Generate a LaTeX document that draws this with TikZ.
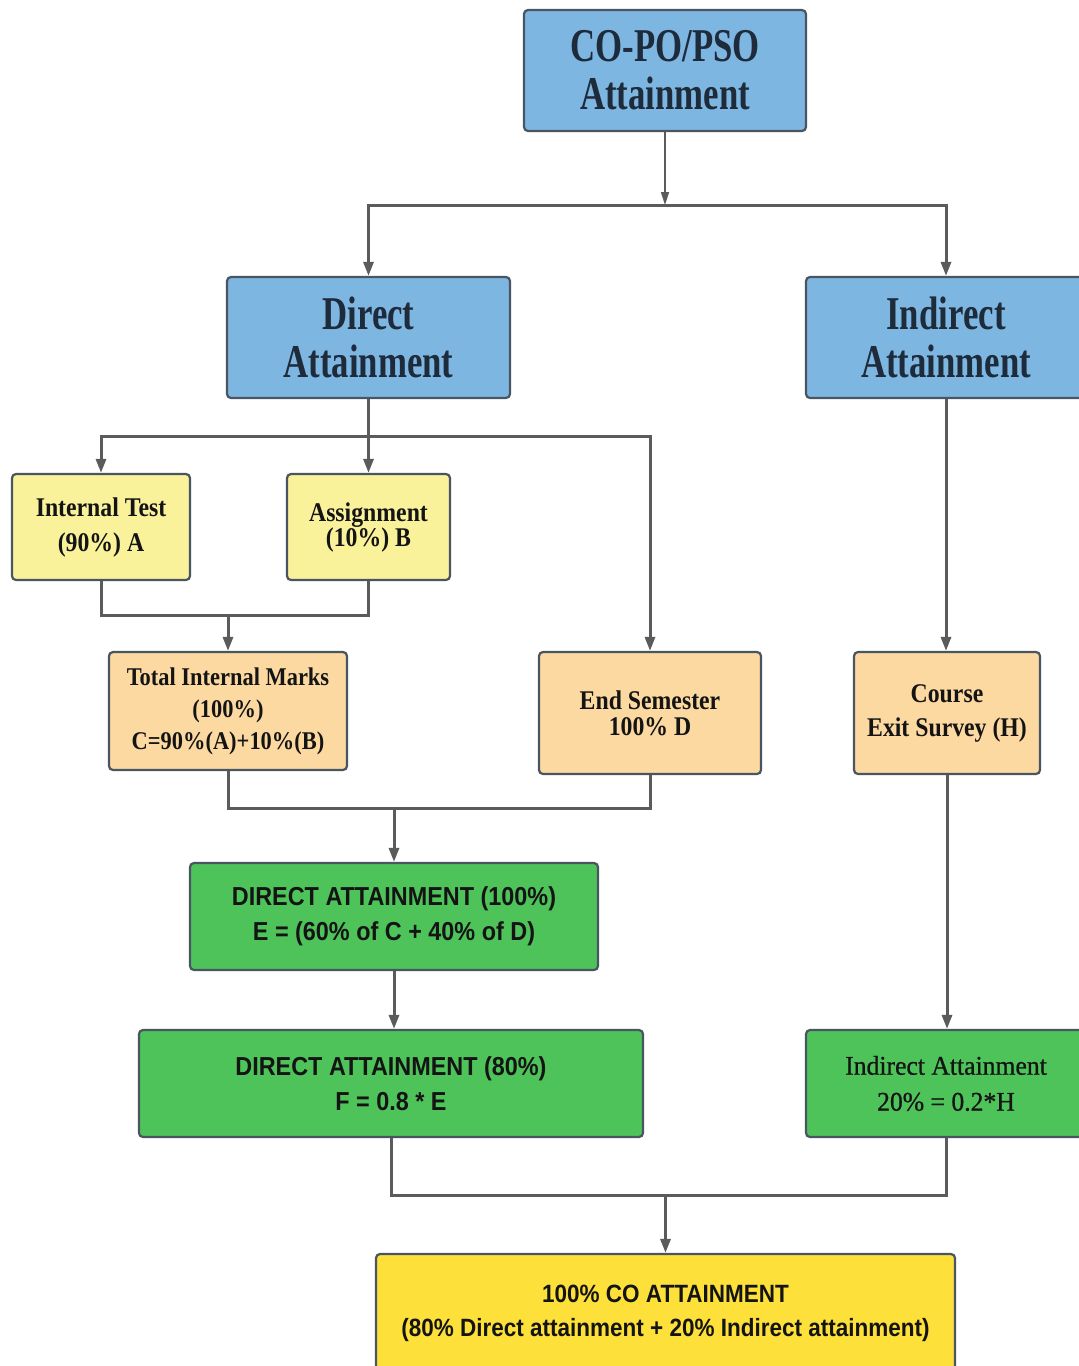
\documentclass[tikz,border=0pt]{standalone}
\usepackage{fontspec}
\usetikzlibrary{arrows.meta}
\newfontfamily\titleserif[FakeStretch=0.74]{Liberation Serif}
\newfontfamily\boxserif[FakeStretch=0.88]{Liberation Serif}
\newfontfamily\plainserif[FakeStretch=0.95,FakeBold=0.8]{Liberation Serif}
\newfontfamily\boxsans[FakeStretch=0.9]{Liberation Sans}
\definecolor{blueface}{HTML}{7EB6E2}
\definecolor{edgecol}{HTML}{4A5562}
\definecolor{paleyellow}{HTML}{FAF29B}
\definecolor{peach}{HTML}{FCD9A0}
\definecolor{leaf}{HTML}{4EC35A}
\definecolor{gold}{HTML}{FDE03A}
\definecolor{wire}{HTML}{5B5B5B}
\definecolor{navytext}{HTML}{1E2B3A}
\definecolor{inktext}{HTML}{141414}
\tikzset{
  box/.style={draw=edgecol, line width=2.2pt, rounded corners=4pt, inner sep=0pt, align=center, text=inktext},
  bluebox/.style={box, fill=blueface, text=navytext, font={\titleserif\bfseries\fontsize{47}{48}\selectfont}},
  inputbox/.style={box, fill=paleyellow, font={\boxserif\bfseries\fontsize{27}{35}\selectfont}},
  sumbox/.style={box, fill=peach, font={\boxserif\bfseries\fontsize{27}{34}\selectfont}},
  greenbox/.style={box, fill=leaf, font={\boxsans\bfseries\fontsize{26}{35}\selectfont}},
  goldbox/.style={box, fill=gold, font={\boxsans\bfseries\fontsize{25}{34}\selectfont}},
  wireline/.style={draw=wire, line width=3pt},
  flow/.style={wireline, -{Triangle[width=10pt,length=14pt]}},
  thinflow/.style={draw=wire, line width=1.4pt, -{Triangle[width=8pt,length=13pt]}}
}
\begin{document}
\begin{tikzpicture}[x=1pt,y=-1pt]
\useasboundingbox (0,0) rectangle (1079,1366);
\fill[white] (0,0) rectangle (1079,1366);

% level 1
\node[bluebox, minimum width=282pt, minimum height=121pt] (top) at (665,70.5) {CO-PO/PSO\\Attainment};

% level 2
\node[bluebox, minimum width=283pt, minimum height=121pt] (dir) at (368.5,337.5) {Direct\\Attainment};
\node[bluebox, minimum width=280pt, minimum height=121pt] (ind) at (946,337.5) {Indirect\\Attainment};

% direct components
\node[inputbox, minimum width=178pt, minimum height=106pt] (itest) at (101,527) {Internal Test\\(90\%) A};
\node[inputbox, minimum width=163pt, minimum height=106pt, font={\boxserif\bfseries\fontsize{27}{25}\selectfont}] (asg) at (368.5,527) {Assignment\\(10\%) B};
\node[sumbox, minimum width=238pt, minimum height=118pt, font={\boxserif\bfseries\fontsize{25.5}{32}\selectfont}] (tim) at (228,711) {Total Internal Marks\\(100\%)\\C=90\%(A)+10\%(B)};
\node[sumbox, minimum width=222pt, minimum height=122pt, font={\boxserif\bfseries\fontsize{27}{26}\selectfont}] (endsem) at (650,713) {End Semester\\100\% D};
\node[sumbox, minimum width=186pt, minimum height=122pt] (survey) at (947,713) {Course\\Exit Survey (H)};

% direct totals
\node[greenbox, minimum width=408pt, minimum height=107pt] (da1) at (394,916.5) {DIRECT ATTAINMENT (100\%)\\E = (60\% of C + 40\% of D)};
\node[greenbox, minimum width=504pt, minimum height=107pt] (da2) at (391,1083.5) {DIRECT ATTAINMENT (80\%)\\F = 0.8 * E};
\node[box, fill=leaf, minimum width=280pt, minimum height=107pt, font={\plainserif\fontsize{27}{36}\selectfont}] (ia) at (946,1083.5) {Indirect Attainment\\20\% = 0.2*H};

% final result
\node[goldbox, minimum width=579pt, minimum height=118pt] (final) at (665.5,1313) {100\% CO ATTAINMENT\\(80\% Direct attainment + 20\% Indirect attainment)};

% junction points
\coordinate (jtop) at (665,205);
\coordinate (jdir) at (368.5,436);
\coordinate (jint) at (228,615);
\coordinate (jmid) at (394,808);
\coordinate (jend) at (665.5,1195);

% connectors
\draw[thinflow] (top.south) -- (jtop);
\draw[flow] (jtop) -| (dir.north);
\draw[flow] (jtop) -| (ind.north);

\draw[wireline] (dir.south) -- (jdir);
\draw[flow] (jdir) -| (itest.north);
\draw[flow] (jdir) -- (asg.north);
\draw[flow] (jdir) -| (endsem.north);

\draw[wireline] (itest.south) |- (jint);
\draw[wireline] (asg.south) |- (jint);
\draw[flow] (jint) -- (tim.north);

\draw[wireline] (tim.south) |- (jmid);
\draw[wireline] (endsem.south) |- (jmid);
\draw[flow] (jmid) -- (da1.north);

\draw[flow] (da1.south) -- (da1.south |- da2.north);

\draw[flow] (ind.south) -- (ind.south |- survey.north);
\draw[flow] (survey.south) -- (survey.south |- ia.north);

\draw[wireline] (da2.south) |- (jend);
\draw[wireline] (ia.south) |- (jend);
\draw[flow] (jend) -- (final.north);
\end{tikzpicture}
\end{document}
